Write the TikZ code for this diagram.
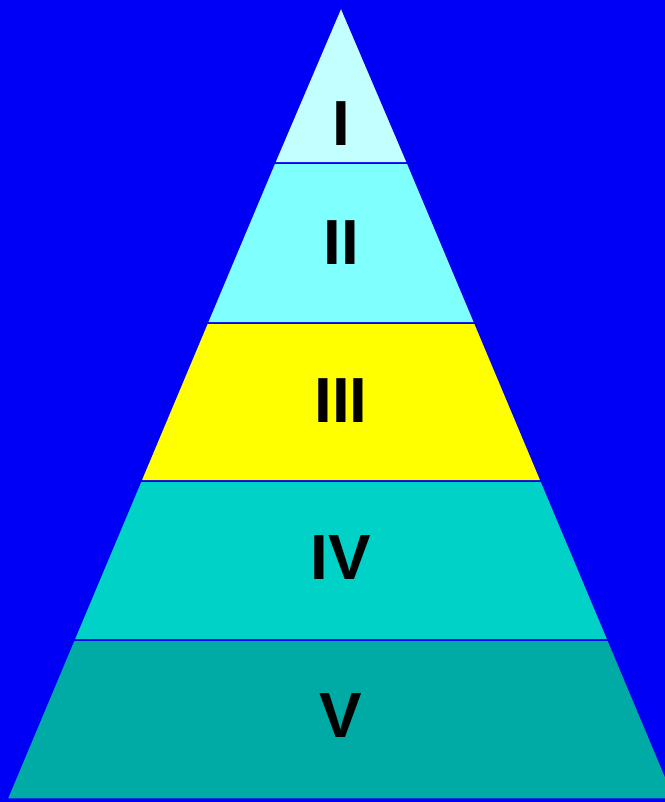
\documentclass[tikz,border=0pt]{standalone}
\usepackage{fontspec}
\setmainfont{Liberation Sans}
\definecolor{bg}{HTML}{0000F6}
\definecolor{cI}{HTML}{C4FFFF}
\definecolor{cII}{HTML}{80FFFF}
\definecolor{cIII}{HTML}{FFFF00}
\definecolor{cIV}{HTML}{00D2C8}
\definecolor{cV}{HTML}{00AAA5}
\begin{document}
\begin{tikzpicture}[x=1bp,y=-1bp,
  band/.style={draw=bg,line width=1.5bp},
  lbl/.style={font=\fontsize{64}{64}\selectfont\bfseries,text=black,inner sep=0pt}]
\fill[bg] (0,0) rectangle (665,802);
\useasboundingbox (0,0) rectangle (665,802);
\begin{scope}
\clip (0,0) rectangle (665,799.5);
% left edge x(y) = 341 - 333*(y-7)/792
\filldraw[band,fill=cI]   (341,7) -- (407.6,163) -- (274.4,163) -- cycle;
\filldraw[band,fill=cII]  (274.4,163) -- (407.6,163) -- (474.9,323) -- (207.1,323) -- cycle;
\filldraw[band,fill=cIII] (207.1,323) -- (474.9,323) -- (541.3,481) -- (140.7,481) -- cycle;
\filldraw[band,fill=cIV]  (140.7,481) -- (541.3,481) -- (608.2,640) -- (73.8,640) -- cycle;
\filldraw[band,fill=cV]   (73.8,640) -- (608.2,640) -- (675,799) -- (7,799) -- cycle;
\end{scope}
\node[lbl] (l1) at (341,124) {I};
\node[lbl] (l2) at (341,243) {II};
\node[lbl] (l3) at (341,401) {III};
\node[lbl] (l4) at (341,558) {IV};
\node[lbl] (l5) at (341,716) {V};
\end{tikzpicture}
\end{document}
